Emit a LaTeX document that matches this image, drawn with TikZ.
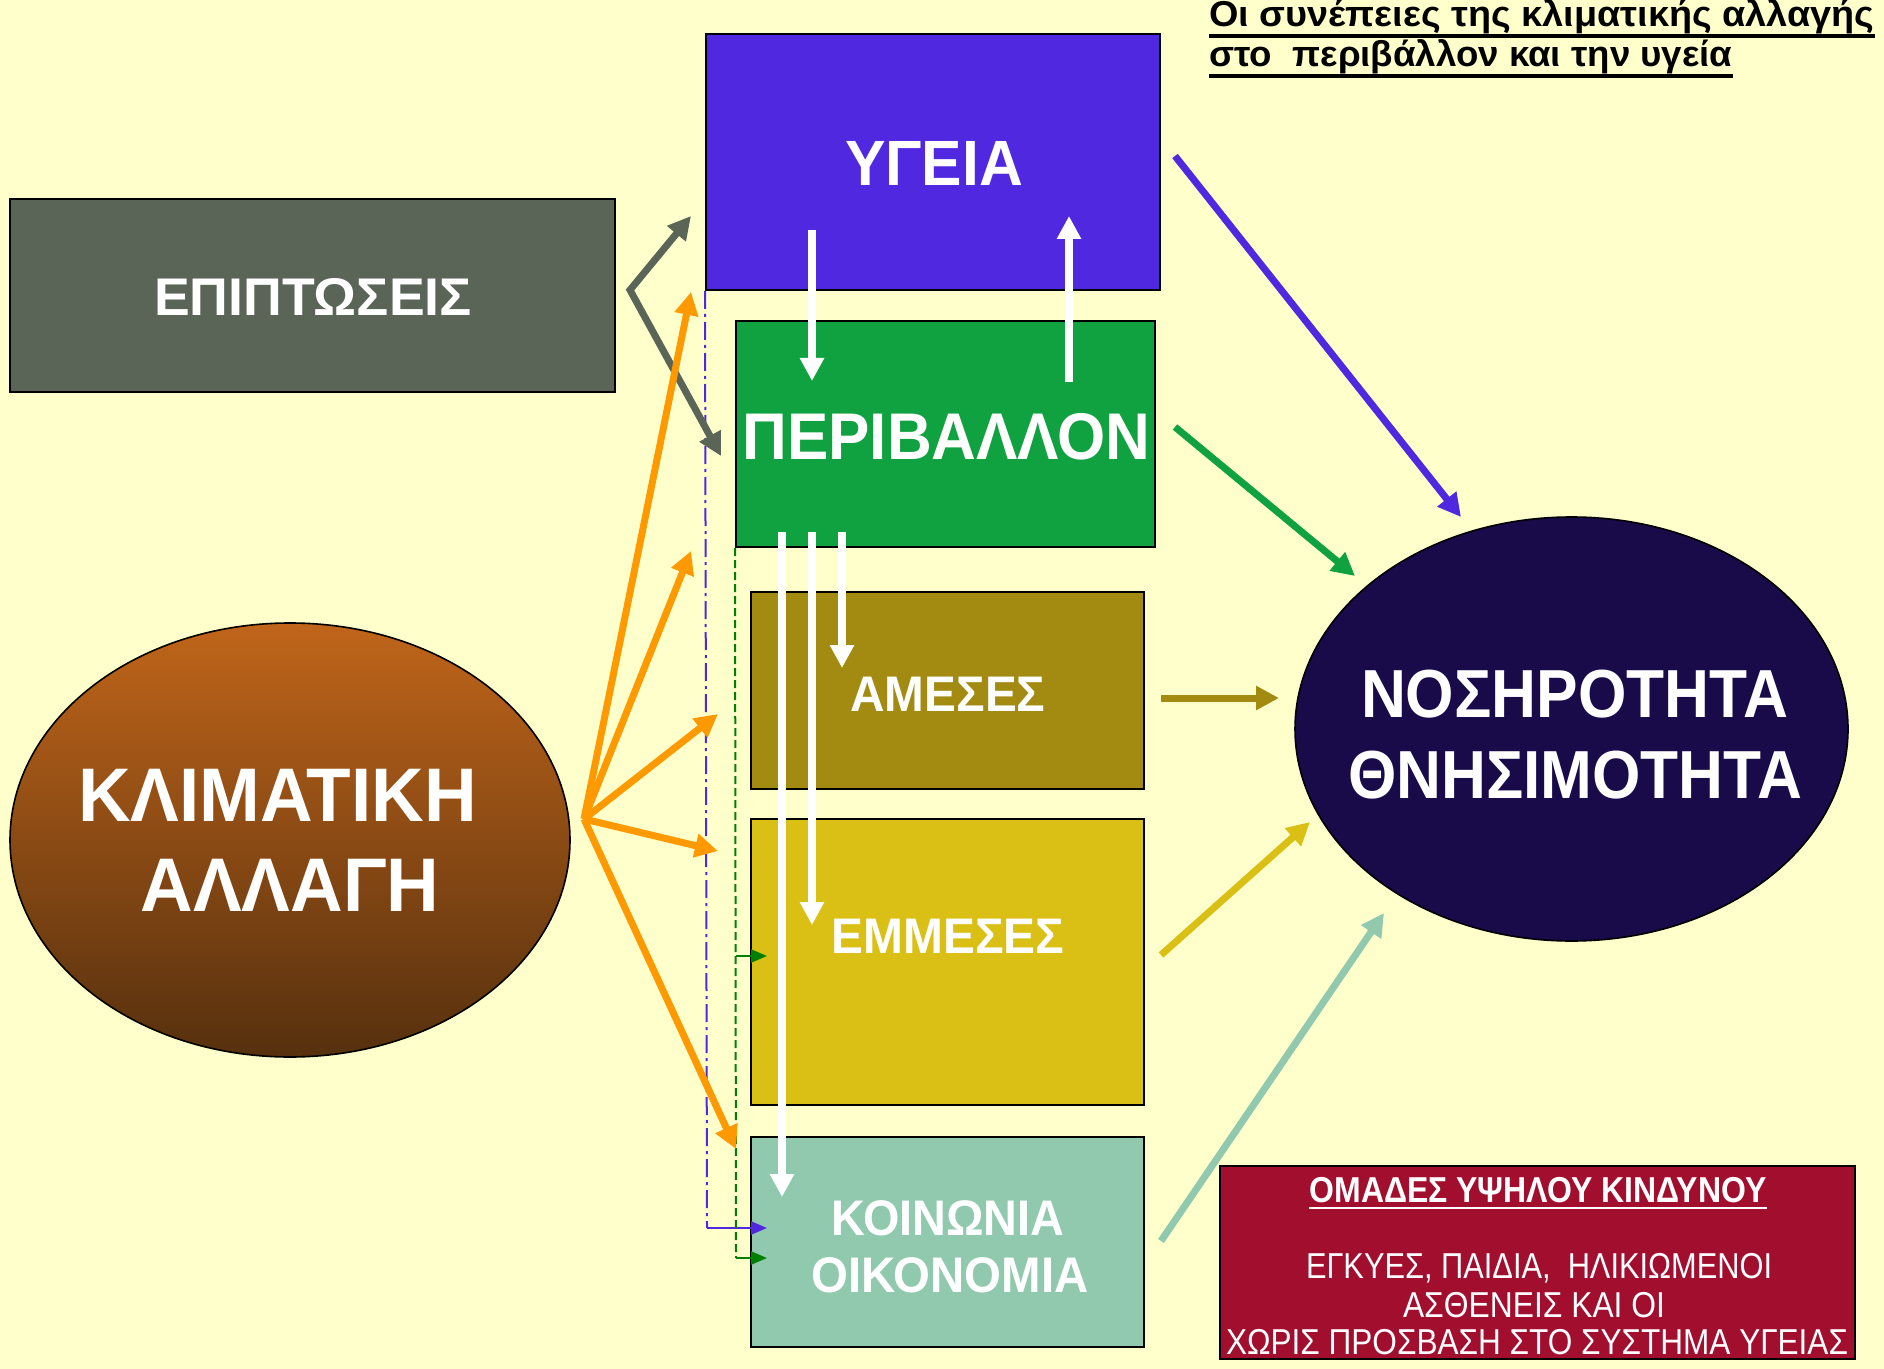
\documentclass[tikz,border=0pt]{standalone}
\usepackage{fontspec}
\setmainfont{Liberation Sans}
\usepackage{graphicx}
\usetikzlibrary{arrows.meta,shapes.geometric}
\newcommand{\fw}[2]{\resizebox{#1}{\height}{#2}}
\definecolor{bgY}{HTML}{FFFFCC}
\definecolor{cGray}{HTML}{5A6558}
\definecolor{cBlue}{HTML}{5028E0}
\definecolor{cGreen}{HTML}{10A140}
\definecolor{cOlive}{HTML}{A38B12}
\definecolor{cYellow}{HTML}{DABF14}
\definecolor{cTeal}{HTML}{90C9AE}
\definecolor{cRed}{HTML}{A20E2E}
\definecolor{cNavy}{HTML}{190A4A}
\definecolor{cOrange}{HTML}{FF9900}
\definecolor{cDkGreen}{HTML}{008000}
\definecolor{cBrownT}{HTML}{C0651A}
\definecolor{cBrownB}{HTML}{56300E}
\begin{document}
\begin{tikzpicture}[x=0.5pt,y=-0.5pt,
  box/.style={draw=black, line width=1pt, rectangle, inner sep=0pt},
  lbl/.style={text=white, inner sep=0pt, anchor=base, font=\bfseries\fontsize{#1}{#1}\selectfont},
  lblr/.style={text=white, inner sep=0pt, anchor=base, font=\fontsize{#1}{#1}\selectfont},
  fat/.style={line width=3.5pt, -{Triangle[length=11.5pt,width=11.5pt]}},
  wht/.style={white, line width=4pt, -{Triangle[length=11.5pt,width=11.5pt]}},
  fine/.style={line width=1.3pt, -{Triangle[length=8pt,width=6.5pt]}},
]
\fill[bgY] (0,0) rectangle (1884,1369);
\useasboundingbox (0,0) rectangle (1884,1369);

% boxes
\node[box, fill=cBlue, minimum width=227pt, minimum height=128pt] (ygeia) at (933,162) {};
\node[box, fill=cGray, minimum width=302.5pt, minimum height=96.5pt] (epipt) at (312.5,295.5) {};
\node[box, fill=cGreen, minimum width=209.5pt, minimum height=113pt] (perib) at (945.5,434) {};
\node[box, fill=cOlive, minimum width=196.5pt, minimum height=98.5pt] (ameses) at (947.5,690.5) {};
\node[box, fill=cYellow, minimum width=196.5pt, minimum height=143pt] (emmeses) at (947.5,962) {};
\node[box, fill=cTeal, minimum width=196.5pt, minimum height=105pt] (koin) at (947.5,1242) {};
\node[box, fill=cRed, minimum width=317.5pt, minimum height=96.5pt] (risk) at (1537.5,1262.5) {};
\node[ellipse, draw=black, line width=0.8pt, top color=cBrownT, bottom color=cBrownB, minimum width=280pt, minimum height=217pt, inner sep=0pt] (klim) at (290,840) {};
\node[ellipse, draw=black, line width=0.8pt, fill=cNavy, minimum width=276.5pt, minimum height=212pt, inner sep=0pt] (nos) at (1571.5,729) {};

% dashed feedback lines
\coordinate (bl1) at (707,1228);
\coordinate (bl2) at (767,1228);
\draw[cBlue, line width=1pt, dash pattern=on 9pt off 2.5pt on 1.5pt off 2.5pt] (ygeia.south west) -- (bl1);
\draw[cBlue, fine] (bl1) -- (bl2);
\coordinate (gl0) at (736,1258);
\coordinate (gl1) at (736,956);
\coordinate (gt1) at (767,956);
\coordinate (gt2) at (767,1258);
\draw[cDkGreen, line width=1pt, dash pattern=on 4pt off 2pt] (perib.south west) -- (gl0);
\draw[cDkGreen, fine] (gl1) -- (gt1);
\draw[cDkGreen, fine] (gl0) -- (gt2);

% gray arrows
\coordinate (g1) at (691,216);
\coordinate (gv) at (630,290);
\coordinate (g2) at (721,456);
\draw[cGray, line width=3.5pt, miter limit=20, {Triangle[length=11.5pt,width=11.5pt]}-{Triangle[length=11.5pt,width=11.5pt]}] (g1) -- (gv) -- (g2);

% orange arrows
\coordinate (os) at (584,819);
\coordinate (o1) at (691,292);
\coordinate (o2) at (691,551);
\coordinate (o3) at (718,714);
\coordinate (o4) at (718,851);
\coordinate (o5) at (736,1149);
\foreach \t in {o1,o2,o3,o4,o5} \draw[cOrange, fat] (os) -- (\t);

% arrows to morbidity
\coordinate (rb0) at (1175,156); \coordinate (rb1) at (1461,517);
\coordinate (rg0) at (1175,427); \coordinate (rg1) at (1355,576);
\coordinate (ro0) at (1161,698); \coordinate (ro1) at (1279,698);
\coordinate (ry0) at (1161,955); \coordinate (ry1) at (1310,822);
\coordinate (rt0) at (1161,1241); \coordinate (rt1) at (1384,913);
\draw[cBlue, fat] (rb0) -- (rb1);
\draw[cGreen, fat] (rg0) -- (rg1);
\draw[cOlive, fat] (ro0) -- (ro1);
\draw[cYellow, fat] (ry0) -- (ry1);
\draw[cTeal, fat] (rt0) -- (rt1);

% white arrows
\coordinate (w1a) at (812,230); \coordinate (w1b) at (812,381);
\coordinate (w2a) at (1069,382); \coordinate (w2b) at (1069,216);
\coordinate (w3a) at (782,532); \coordinate (w3b) at (782,1197);
\coordinate (w4a) at (812,532); \coordinate (w4b) at (812,925);
\coordinate (w5a) at (842,532); \coordinate (w5b) at (842,668);
\draw[wht] (w1a) -- (w1b);
\draw[wht] (w2a) -- (w2b);
\draw[wht] (w3a) -- (w3b);
\draw[wht] (w4a) -- (w4b);
\draw[wht] (w5a) -- (w5b);

% labels
\node[lbl=32] (ygeiaT) at (934,186) {\fw{89pt}{ΥΓΕΙΑ}};
\node[lbl=26.5] (epiptT) at (313,316) {\fw{159pt}{ΕΠΙΠΤΩΣΕΙΣ}};
\node[lbl=33] (peribT) at (946.5,459) {\fw{204pt}{ΠΕΡΙΒΑΛΛΟΝ}};
\node[lbl=25] (amesesT) at (948,711) {\fw{97.5pt}{ΑΜΕΣΕΣ}};
\node[lbl=25] (emmesesT) at (948,953) {\fw{116.5pt}{ΕΜΜΕΣΕΣ}};
\node[lbl=25] (koinT1) at (948,1235) {\fw{116.5pt}{ΚΟΙΝΩΝΙΑ}};
\node[lbl=25] (koinT2) at (950,1292) {\fw{138.5pt}{ΟΙΚΟΝΟΜΙΑ}};
\node[lbl=38] (klimT1) at (277.5,821) {\fw{199.5pt}{ΚΛΙΜΑΤΙΚΗ}};
\node[lbl=38] (klimT2) at (290,911) {\fw{149.5pt}{ΑΛΛΑΓΗ}};
\node[lbl=34] (nosT1) at (1574.5,717) {\fw{213.5pt}{ΝΟΣΗΡΟΤΗΤΑ}};
\node[lbl=34] (nosT2) at (1575,798) {\fw{227pt}{ΘΝΗΣΙΜΟΤΗΤΑ}};

\node[lbl=18] (riskT0) at (1538,1202) {\fw{228.5pt}{ΟΜΑΔΕΣ ΥΨΗΛΟΥ ΚΙΝΔΥΝΟΥ}};
\draw[white, line width=1.2pt] ([yshift=-3pt]riskT0.base west) -- ([yshift=-3pt]riskT0.base east);
\node[lblr=18] (riskT1) at (1539,1278) {\fw{233pt}{ΕΓΚΥΕΣ, ΠΑΙΔΙΑ,\ \ ΗΛΙΚΙΩΜΕΝΟΙ}};
\node[lblr=18] (riskT2) at (1534,1317) {\fw{131pt}{ΑΣΘΕΝΕΙΣ ΚΑΙ ΟΙ}};
\node[lblr=18] (riskT3) at (1537,1354) {\fw{311pt}{ΧΩΡΙΣ ΠΡΟΣΒΑΣΗ ΣΤΟ ΣΥΣΤΗΜΑ ΥΓΕΙΑΣ}};

% title
\node[inner sep=0pt, anchor=base west, font=\bfseries\fontsize{18}{18}\selectfont] (title1) at (1209,27) {\fw{332.5pt}{Οι συνέπειες της κλιματικής αλλαγής}};
\node[inner sep=0pt, anchor=base west, font=\bfseries\fontsize{18}{18}\selectfont] (title2) at (1209,67) {\fw{261.5pt}{στο\ \ περιβάλλον και την υγεία}};
\draw[black, line width=2pt] ([yshift=-4.5pt]title1.base west) -- ([yshift=-4.5pt]title1.base east);
\draw[black, line width=2pt] ([yshift=-4.5pt]title2.base west) -- ([yshift=-4.5pt]title2.base east);
\end{tikzpicture}
\end{document}
